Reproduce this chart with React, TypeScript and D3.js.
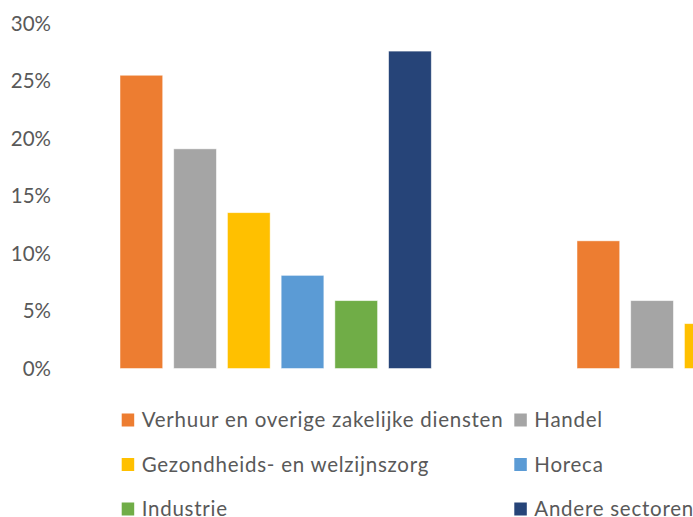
import React from "react";
import * as d3 from "d3";

const categories = ["Groep A", "Groep B"];
const seriesNames = [
  "Verhuur en overige zakelijke diensten",
  "Handel",
  "Gezondheids- en welzijnszorg",
  "Horeca",
  "Industrie",
  "Andere sectoren",
];
const seriesColors = ["#ED7D31", "#A5A5A5", "#FFC000", "#5B9BD5", "#70AD47", "#264478"];
// values per series: [Groep A, Groep B] (Groep B partly outside the visible frame)
const verhuur = [0.255, 0.111];
const handel = [0.191, 0.059];
const zorg = [0.1355, 0.039];
const horeca = [0.081, 0.03];
const industrie = [0.059, 0.05];
const andere = [0.276, 0.71];
const seriesValues = [verhuur, handel, zorg, horeca, industrie, andere];
const yTicks = [0, 0.05, 0.1, 0.15, 0.2, 0.25, 0.3];

const W = 693;
const H = 517;
const FONT = "Lato, 'Liberation Sans', sans-serif";
const TEXT = "#595959";

export default function App() {
  const y = d3.scaleLinear().domain([0, 0.3]).range([368.5, 23.5]);
  const x0 = d3.scaleBand<string>().domain(categories).range([47.15, 47.15 + 914]).padding(0);
  const x1 = d3
    .scaleBand<string>()
    .domain(seriesNames)
    .range([72.85, 72.85 + 311.3])
    .paddingInner(0.205)
    .paddingOuter(0);
  const fmt = d3.format(".0%");

  const legendItems = [
    { i: 0, col: 0, row: 0 },
    { i: 1, col: 1, row: 0 },
    { i: 2, col: 0, row: 1 },
    { i: 3, col: 1, row: 1 },
    { i: 4, col: 0, row: 2 },
    { i: 5, col: 1, row: 2 },
  ];
  const colX = [121.7, 514.3];
  const rowY = [420, 464.5, 509];

  return (
    <svg
      width={W}
      height={H}
      style={{ position: "absolute", left: 0, top: 0, background: "#fff" }}
      fontFamily={FONT}
    >
      <rect width={W} height={H} fill="#fff" />
      {yTicks.map((t) => (
        <text
          key={t}
          x={51}
          y={y(t) + 7.3}
          textAnchor="end"
          fontSize={20.5}
          fill={TEXT}
        >
          {fmt(t)}
        </text>
      ))}
      {categories.map((c, ci) => (
        <g key={c} transform={`translate(${x0(c)},0)`}>
          {seriesNames.map((s, si) => {
            const v = seriesValues[si][ci];
            return (
              <rect
                key={s}
                x={x1(s)}
                y={y(v)}
                width={x1.bandwidth()}
                height={y(0) - y(v)}
                fill={seriesColors[si]}
                stroke="#ffffff"
                strokeOpacity={0.6}
                strokeWidth={0.8}
              />
            );
          })}
        </g>
      ))}
      {legendItems.map(({ i, col, row }) => (
        <g key={i}>
          <rect
            x={colX[col]}
            y={rowY[row] - 6.5}
            width={12.5}
            height={13}
            fill={seriesColors[i]}
          />
          <text
            x={colX[col] + 20}
            y={rowY[row] + 7.3}
            fontSize={20.5}
            letterSpacing={0.75}
            fill={TEXT}
          >
            {seriesNames[i]}
          </text>
        </g>
      ))}
    </svg>
  );
}
